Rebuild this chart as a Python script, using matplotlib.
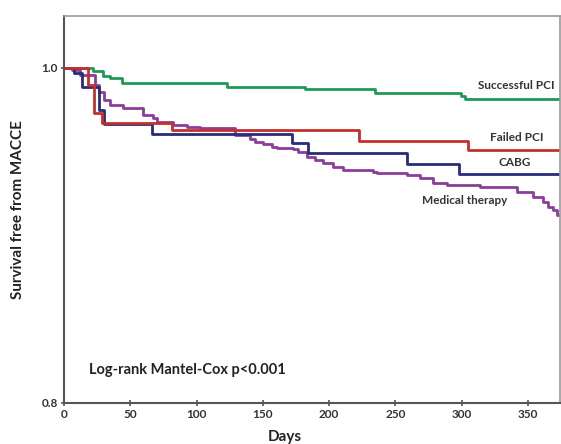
import matplotlib
matplotlib.use("Agg")
import matplotlib.pyplot as plt

plt.rcParams['font.family'] = ['Lato', 'DejaVu Sans']

# Kaplan-Meier steps: (day, survival free from MACCE)
succ_days = [0, 21.9, 29.4, 34.7, 43.7, 123, 181.8, 234.6, 299.5, 302.5, 374]
succ_surv = [1.0, 0.9982, 0.9954, 0.994, 0.991, 0.9886, 0.9872, 0.9851, 0.9833, 0.9815, 0.9815]

failed_days = [0, 18.1, 22.6, 28.7, 81.5, 222.5, 304.7, 374]
failed_surv = [1.0, 0.990, 0.973, 0.967, 0.963, 0.9564, 0.951, 0.951]

cabg_days = [0, 7.5, 13.6, 26.4, 30.2, 66.4, 172, 184, 258.7, 298, 374]
cabg_surv = [1.0, 0.997, 0.9886, 0.975, 0.9665, 0.9606, 0.9552, 0.9492, 0.9426, 0.9367, 0.9367]

med_days = [0, 6, 12, 23.4, 26.4, 30.2, 34.7, 44.5, 59.6, 67, 70, 82, 92.8, 102.6,
            129, 140.3, 144, 150, 157, 160.7, 172.7, 176.5, 183.3, 189.3, 195.4,
            203, 210.5, 233, 236, 258.7, 268.5, 278.3, 289, 313.8, 341.7, 353.8,
            361.3, 365, 368.9, 371.9, 374]
med_surv = [1.0, 0.9988, 0.9958, 0.9898, 0.9857, 0.981, 0.978, 0.976, 0.9719, 0.970,
            0.9677, 0.966, 0.9647, 0.9641, 0.960, 0.9576, 0.9558, 0.9546, 0.9528,
            0.9522, 0.9516, 0.9498, 0.9468, 0.945, 0.9432, 0.9408, 0.939, 0.9378,
            0.9372, 0.936, 0.9343, 0.9313, 0.930, 0.9289, 0.9259, 0.9229, 0.920,
            0.917, 0.915, 0.912, 0.912]

x_ticks = [0, 50, 100, 150, 200, 250, 300, 350]
y_ticks = [0.8, 1.0]

fig = plt.figure(figsize=(5.61, 4.44), dpi=100)
ax = fig.add_axes([0.114, 0.093, 0.884, 0.871])

lw = 2.0
ax.step(succ_days, succ_surv, where='post', color='#1f9a55', lw=lw)
ax.step(med_days, med_surv, where='post', color='#8b3d99', lw=lw)
ax.step(cabg_days, cabg_surv, where='post', color='#2a2c78', lw=lw)
ax.step(failed_days, failed_surv, where='post', color='#c4302b', lw=lw)

ax.set_xlim(0, 374)
ax.set_ylim(0.8, 1.031)
ax.set_xticks(x_ticks)
ax.set_yticks(y_ticks)
ax.set_yticklabels(['0.8', '1.0'])
ax.tick_params(direction='inout', length=5, width=1.2, colors='#555555',
               labelsize=8.5, labelcolor='#333333', pad=2)
for lab in ax.get_xticklabels() + ax.get_yticklabels():
    lab.set_fontweight('bold')

for side in ['left', 'bottom']:
    ax.spines[side].set_color('#555555')
    ax.spines[side].set_linewidth(1.5)
for side in ['top', 'right']:
    ax.spines[side].set_color('#9a9a9a')
    ax.spines[side].set_linewidth(1.2)

lab_kw = dict(transform=ax.transAxes, ha='center', va='center',
              fontsize=8.5, fontweight='bold', color='#333333')
ax.text(0.913, 0.819, 'Successful PCI', **lab_kw)
ax.text(0.913, 0.687, 'Failed PCI', **lab_kw)
ax.text(0.909, 0.620, 'CABG', **lab_kw)
ax.text(0.808, 0.524, 'Medical therapy', **lab_kw)
ax.text(0.05, 0.084, 'Log-rank Mantel-Cox p<0.001', transform=ax.transAxes,
        ha='left', va='center', fontsize=10.5, fontweight='bold', color='#222222')

ax.set_ylabel('Survival free from MACCE', fontsize=11, fontweight='bold',
              color='#222222', labelpad=12)
fig.text(285 / 561, 1 - 437 / 444, 'Days', ha='center', va='center',
         fontsize=11, fontweight='bold', color='#222222')

fig.savefig('out.png', dpi=100)
